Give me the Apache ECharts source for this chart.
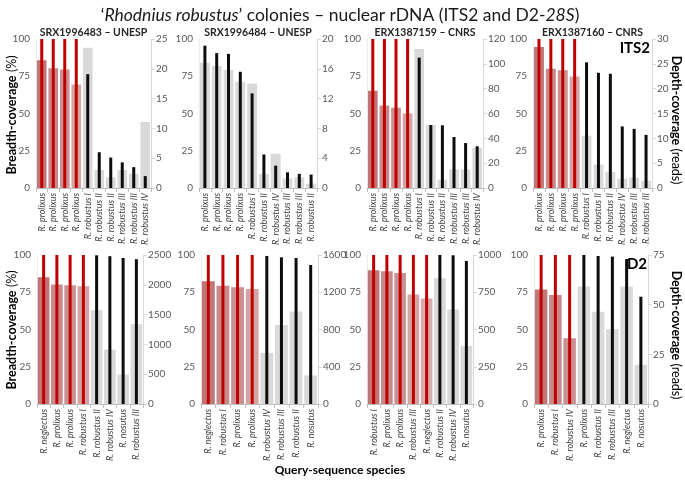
<!DOCTYPE html>
<html><head><meta charset="utf-8">
<script src="https://cdn.jsdelivr.net/npm/echarts@6/dist/echarts.min.js"></script>
<style>html,body{margin:0;padding:0;background:#fff}#c{width:685px;height:480px}</style>
</head><body><div id="c"></div>
<script>
// ---------- DATA ----------
const p1Title = 'SRX1996483 – UNESP';
const p1Cats = ['R. prolixus','R. prolixus','R. prolixus','R. prolixus','R. robustus I','R. robustus II','R. robustus II','R. robustus III','R. robustus III','R. robustus IV'];
const p1Breadth = [85.7, 80.3, 79.6, 69.4, 94.2, 12.1, 7.2, 12.1, 9.6, 44.3];
const p1Depth = [25, 25, 25, 25, 19.1, 6.0, 5.1, 4.3, 3.5, 2.0];
const p1Ticks = [0, 25, 5];

const p2Title = 'SRX1996484 – UNESP';
const p2Cats = ['R. prolixus','R. prolixus','R. prolixus','R. prolixus','R. robustus I','R. robustus II','R. robustus IV','R. robustus III','R. robustus III','R. robustus II'];
const p2Breadth = [84.1, 81.9, 79.2, 71.1, 70.2, 9.4, 23.0, 6.5, 7.2, 2.9];
const p2Depth = [19.1, 18.1, 18.0, 15.6, 12.7, 4.5, 3.0, 2.1, 1.9, 1.8];
const p2Ticks = [0, 20, 4];

const p3Title = 'ERX1387159 – CNRS';
const p3Cats = ['R. prolixus','R. prolixus','R. prolixus','R. prolixus','R. robustus I','R. robustus II','R. robustus II','R. robustus III','R. robustus III','R. robustus IV'];
const p3Breadth = [65.3, 55.3, 53.9, 50.1, 93.3, 42.3, 5.6, 12.5, 12.5, 26.8];
const p3Depth = [120, 120, 120, 120, 105, 50.7, 50.5, 41.1, 36.2, 33.6];
const p3Ticks = [0, 120, 20];

const p4Title = 'ERX1387160 – CNRS';
const p4Cats = ['R. prolixus','R. prolixus','R. prolixus','R. prolixus','R. robustus I','R. robustus II','R. robustus II','R. robustus IV','R. robustus III','R. robustus III'];
const p4Breadth = [94.6, 80.1, 79.0, 74.9, 35.1, 15.7, 10.7, 6.3, 6.9, 4.9];
const p4Depth = [30, 30, 30, 30, 25.3, 23.2, 23.0, 12.4, 11.9, 10.7];
const p4Ticks = [0, 30, 5];

const p5Cats = ['R. neglectus','R. prolixus','R. prolixus','R. robustus I','R. robustus II','R. robustus IV','R. nosutus','R. robustus III'];
const p5Breadth = [85.1, 80.2, 79.7, 79.1, 63.0, 36.5, 19.8, 53.5];
const p5Depth = [2500, 2500, 2500, 2500, 2495, 2480, 2450, 2430];
const p5Ticks = [0, 2500, 500];

const p6Cats = ['R. neglectus','R. robustus I','R. prolixus','R. prolixus','R. robustus IV','R. robustus III','R. robustus II','R. nosutus'];
const p6Breadth = [82.4, 79.3, 78.4, 77.1, 34.3, 53.0, 62.1, 19.2];
const p6Depth = [1600, 1600, 1600, 1600, 1590, 1575, 1568, 1493];
const p6Ticks = [0, 1600, 400];

const p7Cats = ['R. robustus I','R. prolixus','R. prolixus','R. robustus III','R. neglectus','R. robustus II','R. robustus IV','R. nosutus'];
const p7Breadth = [89.8, 89.1, 88.0, 73.5, 70.8, 84.4, 63.5, 39.0];
const p7Depth = [1000, 1000, 1000, 1000, 1000, 1000, 998, 960];
const p7Ticks = [0, 1000, 250];

const p8Cats = ['R. prolixus','R. robustus I','R. robustus IV','R. prolixus','R. robustus II','R. robustus III','R. neglectus','R. nosutus'];
const p8Breadth = [76.8, 73.1, 44.1, 78.8, 61.9, 50.1, 78.8, 26.3];
const p8Depth = [75, 75, 75, 75, 74.5, 74.2, 73.0, 54.0];
const p8Ticks = [0, 75, 25];

// number of leading "match" (red) categories per panel
const redCounts = [4, 0, 4, 4, 4, 4, 5, 3];

// ---------- STYLE / LAYOUT ----------
const FONT = 'Lato, "Open Sans", "DejaVu Sans", sans-serif';
const redShades = ['#c07677', '#c7898a', '#cb9192', '#d4a3a4', '#d9adae'];
const GREY = '#d9d9d9';
const grids = [
  {left: 36, top: 39, width: 115, height: 149},
  {left: 199, top: 39, width: 118, height: 149},
  {left: 367, top: 39, width: 116, height: 149},
  {left: 533, top: 39, width: 119, height: 149},
  {left: 37, top: 255, width: 106, height: 149},
  {left: 201, top: 255, width: 117, height: 149},
  {left: 367, top: 255, width: 106, height: 149},
  {left: 534, top: 255, width: 114, height: 149}
];

const panels = [
  [p1Cats, p1Breadth, p1Depth, p1Ticks],
  [p2Cats, p2Breadth, p2Depth, p2Ticks],
  [p3Cats, p3Breadth, p3Depth, p3Ticks],
  [p4Cats, p4Breadth, p4Depth, p4Ticks],
  [p5Cats, p5Breadth, p5Depth, p5Ticks],
  [p6Cats, p6Breadth, p6Depth, p6Ticks],
  [p7Cats, p7Breadth, p7Depth, p7Ticks],
  [p8Cats, p8Breadth, p8Depth, p8Ticks]
];
const topTitles = [p1Title, p2Title, p3Title, p4Title];

const plain = v => String(v);
const xAxis = [], yAxis = [], series = [];
panels.forEach((p, i) => {
  const [cats, breadth, depth, ticks] = p;
  const red = redCounts[i];
  xAxis.push({
    gridIndex: i, type: 'category', data: cats,
    axisLine: {show: true, lineStyle: {color: '#bfbfbf', width: 1}},
    axisTick: {show: true, length: 4, lineStyle: {color: '#bfbfbf'}},
    axisLabel: {rotate: 90, interval: 0, fontStyle: 'italic', fontSize: 9, color: '#404040', fontFamily: FONT, margin: 5}
  });
  xAxis.push({gridIndex: i, type: 'category', data: cats, show: false});
  yAxis.push({
    gridIndex: i, type: 'value', min: 0, max: 100, interval: 25, position: 'left',
    axisLine: {show: true, lineStyle: {color: '#ececec'}},
    axisTick: {show: false}, splitLine: {show: false},
    axisLabel: {fontSize: 10, color: '#595959', fontFamily: FONT, margin: 6, formatter: plain}
  });
  yAxis.push({
    gridIndex: i, type: 'value', min: ticks[0], max: ticks[1], interval: ticks[2], position: 'right',
    axisLine: {show: true, lineStyle: {color: '#d9d9d9'}},
    axisTick: {show: true, length: 4, lineStyle: {color: '#d9d9d9'}},
    splitLine: {show: false},
    axisLabel: {fontSize: 10, color: '#595959', fontFamily: FONT, margin: 5, formatter: plain}
  });
  series.push({
    type: 'bar', xAxisIndex: 2 * i, yAxisIndex: 2 * i, barWidth: i < 4 ? '84%' : '88%',
    data: breadth.map((v, j) => ({value: v, itemStyle: {color: j < red ? redShades[j] : GREY}})),
    silent: true, animation: false
  });
  series.push({
    type: 'bar', xAxisIndex: 2 * i + 1, yAxisIndex: 2 * i + 1, barWidth: 3,
    data: depth.map((v, j) => ({value: v, itemStyle: {color: j < red ? '#c00000' : '#0d0d0d'}})),
    silent: true, animation: false
  });
});

const graphic = [];
graphic.push({
  type: 'text', x: 340, y: 15,
  style: {
    text: "{a|‘}{i|Rhodnius robustus}{a|’ colonies – nuclear rDNA (ITS2 and D2-}{i|28S}{a|)}",
    align: 'center', verticalAlign: 'middle',
    rich: {
      a: {fontSize: 17.5, fontFamily: FONT, fill: '#1a1a1a'},
      i: {fontSize: 17.5, fontFamily: FONT, fontStyle: 'italic', fill: '#1a1a1a'}
    }
  }
});
topTitles.forEach((t, i) => {
  const g = grids[i];
  graphic.push({type: 'text', x: g.left + g.width / 2, y: 33,
    style: {text: t, align: 'center', verticalAlign: 'middle', font: 'bold 10.5px ' + FONT, fill: '#262626'}});
});
graphic.push({type: 'text', x: 650, y: 48, style: {text: 'ITS2', align: 'right', verticalAlign: 'middle', font: 'bold 15px ' + FONT, fill: '#000'}});
graphic.push({type: 'text', x: 647, y: 264, style: {text: 'D2', align: 'right', verticalAlign: 'middle', font: 'bold 15px ' + FONT, fill: '#000'}});
[115, 330].forEach(cy => {
  graphic.push({type: 'text', x: 12, y: cy, rotation: Math.PI / 2,
    style: {text: '{b|Breadth-coverage} {n|(%)}', align: 'center', verticalAlign: 'middle',
      rich: {b: {fontSize: 12.5, fontWeight: 'bold', fontFamily: FONT, fill: '#000'},
             n: {fontSize: 12.5, fontFamily: FONT, fill: '#000'}}}});
});
[120, 335].forEach(cy => {
  graphic.push({type: 'text', x: 676, y: cy, rotation: -Math.PI / 2,
    style: {text: '{b|Depth-coverage} {n|(reads)}', align: 'center', verticalAlign: 'middle',
      rich: {b: {fontSize: 12.5, fontWeight: 'bold', fontFamily: FONT, fill: '#000'},
             n: {fontSize: 12.5, fontFamily: FONT, fill: '#000'}}}});
});
graphic.push({type: 'text', x: 340, y: 470,
  style: {text: 'Query-sequence species', align: 'center', verticalAlign: 'middle', font: 'bold 12px ' + FONT, fill: '#000'}});

const chart = echarts.init(document.getElementById('c'), null, {renderer: 'canvas'});
chart.setOption({
  animation: false,
  backgroundColor: '#fff',
  textStyle: {fontFamily: FONT},
  grid: grids.map(g => Object.assign({containLabel: false}, g)),
  xAxis, yAxis, series, graphic
});
</script>
</body></html>
